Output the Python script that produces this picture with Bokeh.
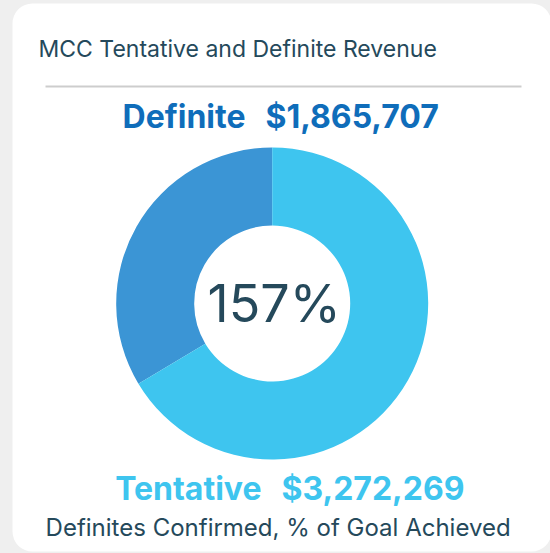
from bokeh.plotting import figure
from bokeh.embed import file_html
from bokeh.resources import INLINE
from bokeh.core.properties import value
from bokeh.models import Range1d
import math

# ---- data ----
title = "MCC Tentative and Definite Revenue"
categories = ["Definite", "Tentative"]
amounts = [1865707, 3272269]
donut_share = [33.6, 66.4]          # share of ring (%)
goal_pct = 157
caption = "Definites Confirmed, % of  Goal Achieved"

slice_colors = ["#3b95d5", "#3ec5ef"]
label_colors = ["#0f6dba", "#3ec5ef"]
dark = "#25495b"
FONT = "Inter"

W, H = 550, 553
p = figure(width=W, height=H, output_backend="svg", toolbar_location=None,
           x_range=Range1d(0, W), y_range=Range1d(0, H), min_border=0)
p.axis.visible = False
p.grid.visible = False
p.outline_line_color = None
p.background_fill_color = "#efefef"
p.border_fill_color = "#efefef"

def px(x):
    return x

def py(y):
    return H - y

# card
p.quad(left=px(12), right=px(551), top=py(3), bottom=py(551),
       fill_color="white", line_color=None, border_radius=20)

# title + rule
p.text(x=[px(38)], y=[py(48)], text=[title], text_font=value(FONT),
       text_font_size="23px", text_color=dark, text_baseline="middle", text_align="left")
p.segment(x0=[px(45)], y0=[py(86)], x1=[px(521)], y1=[py(86)],
          line_color="#cdcdcd", line_width=2)

# donut
cx, cy = px(271.7), py(303)
start = math.pi / 2
starts, ends = [], []
for s in donut_share:
    starts.append(start)
    start = start + 2 * math.pi * s / 100.0
    ends.append(start)
p.annular_wedge(x=[cx] * 2, y=[cy] * 2, inner_radius=78, outer_radius=156,
                start_angle=starts, end_angle=ends, direction="anticlock",
                fill_color=slice_colors, line_color=None)

p.text(x=[cx + 2], y=[cy], text=[f"{goal_pct}%"], text_font=value(FONT),
       text_font_size="52px", text_color=dark, text_baseline="middle", text_align="center")

# headline labels
label_y = [py(116), py(488)]
label_split = [px(255), px(271)]
for i, cat in enumerate(categories):
    p.text(x=[label_split[i] - 10], y=[label_y[i]], text=[cat], text_font=value(FONT),
           text_font_size="32px", text_font_style="bold", text_color=label_colors[i],
           text_baseline="middle", text_align="right")
    p.text(x=[label_split[i] + 10], y=[label_y[i]], text=[f"${amounts[i]:,}"],
           text_font=value(FONT), text_font_size="32px", text_font_style="bold",
           text_color=label_colors[i], text_baseline="middle", text_align="left")

p.text(x=[px(281)], y=[py(527)], text=[caption], text_font=value(FONT),
       text_font_size="24px", text_color=dark, text_baseline="middle", text_align="center")

html = file_html(p, INLINE)
html = html.replace("<head>", "<head><style>body{background:#efefef;}</style>", 1)
open("out.html", "w").write(html)
